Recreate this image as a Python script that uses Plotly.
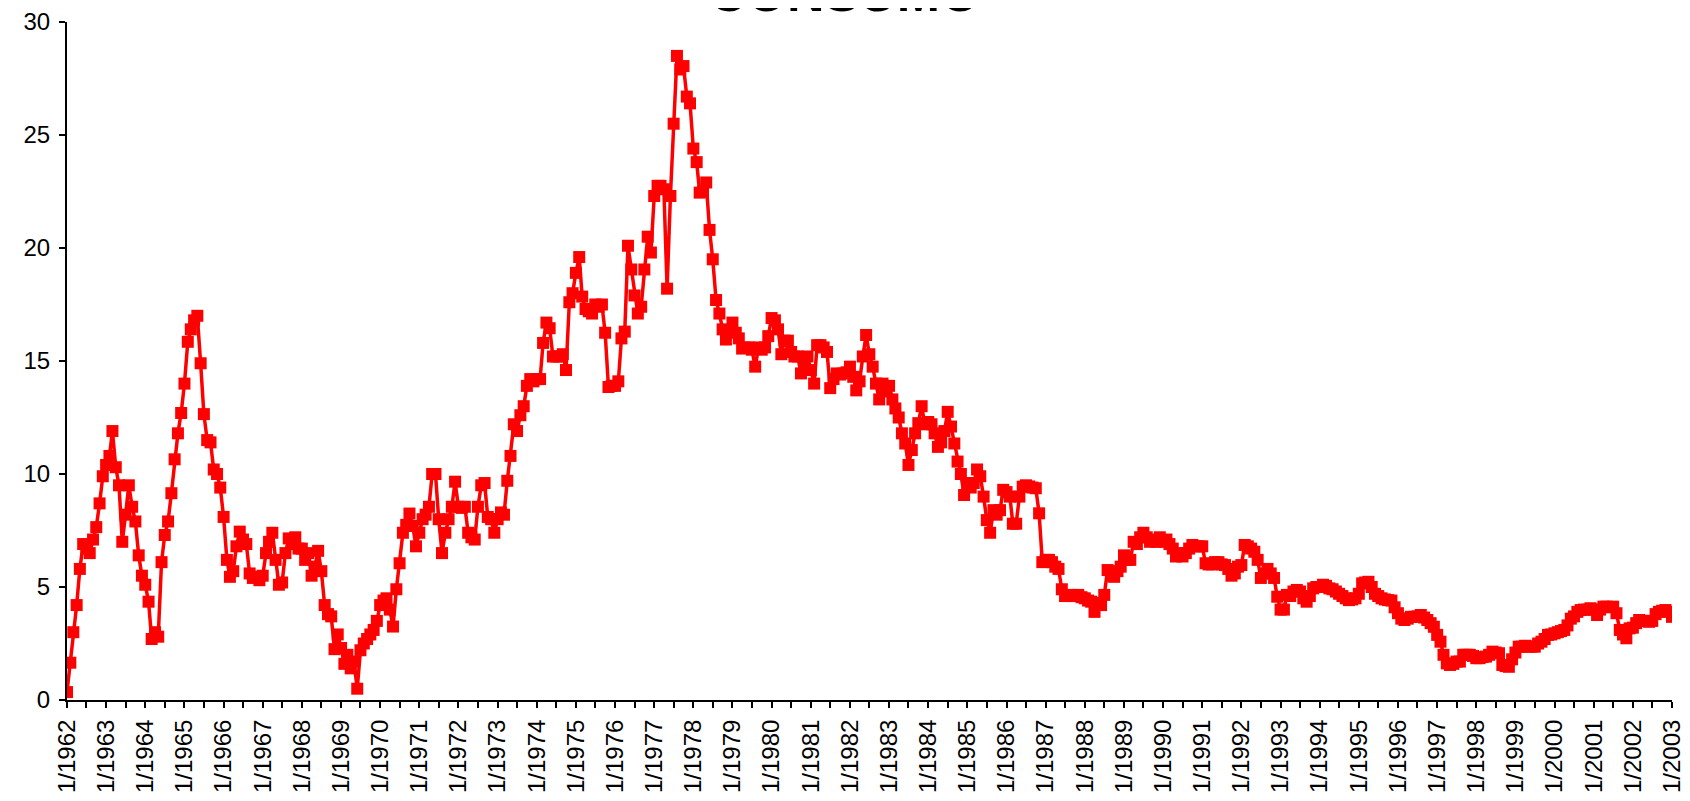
import plotly.graph_objects as go
import pandas as pd

# Monthly values (January..December)
y1962 = [0.35, 1.65, 3.0, 4.2, 5.8, 6.9, 6.7, 6.5, 7.1, 7.65, 8.7, 9.9]
y1963 = [10.4, 10.8, 11.9, 10.3, 9.5, 7.0, 8.2, 9.5, 8.55, 7.9, 6.4, 5.5]
y1964 = [5.1, 4.35, 2.7, 3.0, 2.8, 6.1, 7.3, 7.9, 9.15, 10.65, 11.8, 12.7]
y1965 = [14.0, 15.85, 16.4, 16.8, 17.0, 14.9, 12.65, 11.5, 11.4, 10.2, 10.0, 9.4]
y1966 = [8.1, 6.2, 5.45, 5.7, 6.8, 7.45, 7.1, 6.9, 5.6, 5.4, 5.45, 5.3]
y1967 = [5.5, 6.5, 7.0, 7.4, 6.2, 5.1, 5.2, 6.5, 7.15, 6.9, 7.2, 6.7]
y1968 = [6.7, 6.2, 6.5, 5.5, 5.9, 6.6, 5.7, 4.2, 3.8, 3.7, 2.25, 2.9]
y1969 = [2.3, 1.6, 2.0, 1.4, 1.7, 0.5, 2.2, 2.5, 2.7, 2.9, 3.1, 3.5]
y1970 = [4.2, 4.4, 4.5, 4.0, 3.25, 4.9, 6.05, 7.4, 7.75, 8.25, 7.7, 6.8]
y1971 = [7.4, 8.0, 8.2, 8.55, 10.0, 10.0, 8.0, 6.5, 7.4, 8.0, 8.55, 9.66]
y1972 = [8.55, 8.5, 8.55, 7.4, 7.2, 7.1, 8.55, 9.5, 9.6, 8.1, 8.0, 7.4]
y1973 = [8.0, 8.3, 8.2, 9.7, 10.8, 12.2, 11.9, 12.6, 13.0, 13.9, 14.2, 14.1]
y1974 = [14.2, 14.2, 15.8, 16.7, 16.45, 15.2, 15.2, 15.2, 15.3, 14.6, 17.6, 18.0]
y1975 = [18.9, 19.6, 17.85, 17.3, 17.2, 17.1, 17.5, 17.4, 17.5, 16.25, 13.85, 13.9]
y1976 = [13.9, 14.1, 16.0, 16.3, 20.1, 19.05, 17.9, 17.1, 17.4, 19.05, 20.5, 19.8]
y1977 = [22.3, 22.75, 22.75, 22.6, 18.2, 22.3, 25.5, 28.5, 27.9, 28.05, 26.7, 26.4]
y1978 = [24.4, 23.8, 22.45, 22.5, 22.9, 20.8, 19.5, 17.7, 17.1, 16.4, 15.95, 16.3]
y1979 = [16.7, 16.25, 16.0, 15.55, 15.6, 15.6, 15.5, 14.75, 15.6, 15.5, 15.6, 16.1]
y1980 = [16.9, 16.8, 16.4, 15.3, 15.9, 15.9, 15.4, 15.2, 15.2, 14.45, 14.8, 15.2]
y1981 = [14.6, 14.0, 15.7, 15.7, 15.6, 15.4, 13.8, 14.2, 14.45, 14.4, 14.45, 14.5]
y1982 = [14.75, 14.3, 13.7, 14.1, 15.2, 16.15, 15.3, 14.75, 14.0, 13.3, 14.0, 13.65]
y1983 = [13.9, 13.3, 12.9, 12.5, 11.8, 11.35, 10.4, 11.06, 11.8, 12.25, 13.0, 12.2]
y1984 = [12.3, 12.2, 11.8, 11.2, 11.4, 11.9, 12.75, 12.1, 11.35, 10.55, 10.0, 9.07]
y1985 = [9.6, 9.4, 9.6, 10.2, 9.9, 9.0, 7.96, 7.4, 8.4, 8.2, 8.4, 9.3]
y1986 = [9.2, 9.0, 7.8, 7.8, 9.0, 9.44, 9.5, 9.45, 9.4, 9.37, 8.26, 6.1]
y1987 = [6.2, 6.2, 6.1, 5.9, 5.8, 4.9, 4.6, 4.6, 4.65, 4.6, 4.65, 4.55]
y1988 = [4.5, 4.4, 4.35, 3.9, 4.3, 4.2, 4.65, 5.75, 5.5, 5.45, 5.7, 5.9]
y1989 = [6.4, 6.2, 6.2, 7.0, 6.9, 7.2, 7.4, 7.2, 7.0, 7.1, 7.0, 7.2]
y1990 = [7.0, 7.1, 6.9, 6.7, 6.35, 6.5, 6.35, 6.5, 6.7, 6.86, 6.8, 6.8]
y1991 = [6.8, 6.05, 6.0, 6.0, 6.1, 6.1, 6.0, 5.97, 5.8, 5.5, 5.6, 5.9]
y1992 = [5.97, 6.86, 6.8, 6.7, 6.56, 6.2, 5.4, 5.6, 5.8, 5.6, 5.4, 4.57]
y1993 = [4.0, 4.0, 4.65, 4.6, 4.8, 4.87, 4.8, 4.5, 4.35, 4.6, 4.94, 5.0]
y1994 = [5.0, 5.1, 5.05, 4.94, 4.9, 4.8, 4.7, 4.6, 4.5, 4.42, 4.45, 4.5]
y1995 = [4.7, 5.16, 5.2, 5.23, 5.0, 4.7, 4.6, 4.5, 4.45, 4.42, 4.4, 4.1]
y1996 = [3.84, 3.6, 3.54, 3.6, 3.68, 3.68, 3.7, 3.76, 3.65, 3.54, 3.4, 3.24]
y1997 = [2.88, 2.58, 2.0, 1.62, 1.55, 1.6, 1.7, 1.7, 2.0, 2.0, 2.0, 1.95]
y1998 = [1.85, 1.85, 1.9, 1.92, 2.0, 2.14, 2.1, 2.07, 1.55, 1.5, 1.47, 1.8]
y1999 = [2.1, 2.36, 2.36, 2.4, 2.36, 2.36, 2.36, 2.5, 2.58, 2.7, 2.88, 2.9]
y2000 = [2.95, 3.0, 3.05, 3.1, 3.3, 3.6, 3.7, 3.9, 3.98, 4.0, 4.0, 4.06]
y2001 = [4.0, 3.76, 4.0, 4.13, 4.13, 4.1, 4.13, 3.84, 3.1, 2.9, 2.73, 3.17]
y2002 = [3.2, 3.4, 3.54, 3.5, 3.5, 3.46, 3.5, 3.8, 3.9, 3.95, 3.98, 3.9]
y2003 = [3.68]

years = [y1962, y1963, y1964, y1965, y1966, y1967, y1968, y1969, y1970, y1971,
         y1972, y1973, y1974, y1975, y1976, y1977, y1978, y1979, y1980, y1981,
         y1982, y1983, y1984, y1985, y1986, y1987, y1988, y1989, y1990, y1991,
         y1992, y1993, y1994, y1995, y1996, y1997, y1998, y1999, y2000, y2001,
         y2002, y2003]
values = [v for yr in years for v in yr]

dates = pd.date_range("1962-01-01", periods=len(values), freq="MS")
tick_dates = pd.date_range("1962-01-01", "2003-01-01", freq="6MS")
tick_text = [f"1/{d.year}" if d.month == 1 else "" for d in tick_dates]

title_text = "CONSUMO"
font_family = "Liberation Sans, Arial, sans-serif"

fig = go.Figure()
fig.add_trace(go.Scatter(
    x=dates, y=values, mode="lines+markers",
    line=dict(color="#FF0000", width=3.5),
    marker=dict(symbol="square", size=12, color="#FF0000", line=dict(width=0)),
    showlegend=False, hoverinfo="x+y",
))

xr = [dates[0], dates[-1]]
# the page body has an 8px default margin: size and margins compensate for it
fig.update_layout(
    width=1674, height=785,
    margin=dict(l=59, r=10, t=14, b=93),
    paper_bgcolor="white", plot_bgcolor="white",
    xaxis=dict(type="date", range=xr, tickmode="array", tickvals=tick_dates, ticktext=tick_text,
               tickangle=-90, ticks="outside", ticklen=6, tickwidth=1.5, tickcolor="black",
               showline=True, linecolor="black", linewidth=2, showgrid=False, zeroline=False,
               automargin=False, ticklabelstandoff=2, ticklabeloverflow="allow",
               tickfont=dict(family=font_family, size=24, color="black")),
    yaxis=dict(range=[0, 30], tick0=0, dtick=5, ticks="outside", ticklen=6, tickwidth=1.5,
               tickcolor="black", showline=True, linecolor="black", linewidth=2,
               showgrid=False, zeroline=False, automargin=False, ticklabelstandoff=4,
               ticklabeloverflow="allow",
               tickfont=dict(family=font_family, size=24, color="black")),
    xaxis2=dict(type="date", range=xr, overlaying="x", anchor="y", side="bottom",
                tickmode="array", tickvals=tick_dates, ticks="inside", ticklen=6, tickwidth=1.5,
                tickcolor="black", showticklabels=False, showline=False, showgrid=False,
                zeroline=False, automargin=False),
    yaxis2=dict(range=[0, 30], overlaying="y", anchor="x", side="left", tick0=0, dtick=5,
                ticks="inside", ticklen=6, tickwidth=1.5, tickcolor="black",
                showticklabels=False, showline=False, showgrid=False, zeroline=False,
                automargin=False),
    annotations=[dict(text=f"<b>{title_text}</b>", xref="paper", yref="paper", x=0.485, y=0.997,
                      xanchor="center", yanchor="bottom", showarrow=False,
                      font=dict(family=font_family, size=52, color="black"))],
)

fig.write_html("out.html")
